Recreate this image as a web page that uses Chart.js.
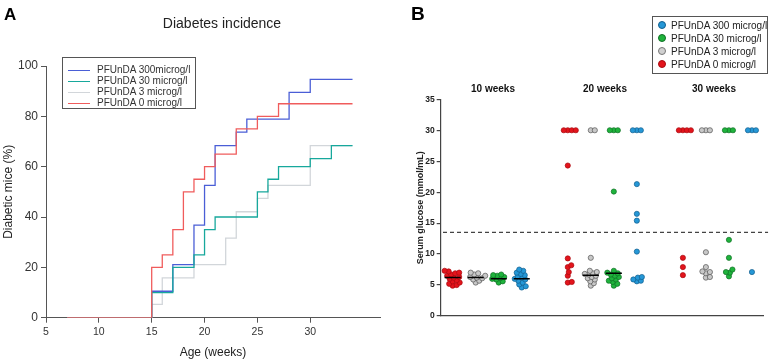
<!DOCTYPE html>
<html lang="en">
<head>
  <meta charset="UTF-8">
  <title>PFUnDA diabetes incidence and glucose</title>
  <script src="https://cdn.jsdelivr.net/npm/chart.js"></script>
  <style>
    body {
      margin: 0;
      background: #fff;
      font-family: 'Liberation Sans', Arial, sans-serif;
    }
    .wrap { position: relative; width: 770px; height: 362px; overflow: hidden; }
    #chartA { position: absolute; left: 0; top: 0; }
    #chartB { position: absolute; left: 395px; top: 0; }
    .tag { position: absolute; font-weight: bold; line-height: 1; color: #000; }
    .title { position: absolute; font-size: 14px; line-height: 1; color: #222; width: 200px; text-align: center; }
    /* legend boxes */
    .legA { position: absolute; left: 62px; top: 57px; width: 134px; height: 52px; border: 1px solid #555; box-sizing: border-box; }
    .legA .row { position: absolute; left: 5px; height: 11px; font-size: 10px; line-height: 11px; color: #333; white-space: nowrap; }
    .legA .swatch { display: inline-block; width: 22px; height: 0; border-top: 1.3px solid; vertical-align: middle; margin-right: 7px; }
    .legB { position: absolute; left: 652px; top: 16px; width: 116px; height: 58px; border: 1px solid #555; box-sizing: border-box; }
    .legB .row { position: absolute; left: 5px; height: 13px; font-size: 10px; line-height: 13px; color: #222; white-space: nowrap; }
    .legB .dot { display: inline-block; width: 6px; height: 6px; border-radius: 50%; border: 0.8px solid; vertical-align: middle; margin-right: 5px; margin-top: -2px; }
    .head { position: absolute; top: 84px; font-size: 10px; font-weight: bold; line-height: 1; color: #111; width: 80px; text-align: center; }
  </style>
</head>
<body>
<div class="wrap">
  <canvas id="chartA" width="390" height="362"></canvas>
  <canvas id="chartB" width="375" height="362"></canvas>

  <div class="tag" style="left:4px; top:6px; font-size:17px;">A</div>
  <div class="tag" style="left:411px; top:4px; font-size:19px;">B</div>
  <div class="title" style="left:122px; top:16px;">Diabetes incidence</div>

  <!-- panel A legend -->
  <div class="legA">
    <div class="row" style="top:6px;"><span class="swatch" style="border-color:#4a5ed6"></span>PFUnDA 300microg/l</div>
    <div class="row" style="top:17px;"><span class="swatch" style="border-color:#17a89c"></span>PFUnDA 30 microg/l</div>
    <div class="row" style="top:28px;"><span class="swatch" style="border-color:#d2d6da"></span>PFUnDA 3 microg/l</div>
    <div class="row" style="top:39px;"><span class="swatch" style="border-color:#f05c5c"></span>PFUnDA 0 microg/l</div>
  </div>

  <!-- panel B legend -->
  <div class="legB">
    <div class="row" style="top:2px;"><span class="dot" style="background:#2597d6;border-color:#125f8e"></span>PFUnDA 300 microg/l</div>
    <div class="row" style="top:15px;"><span class="dot" style="background:#1fb33c;border-color:#0f6e24"></span>PFUnDA 30 microg/l</div>
    <div class="row" style="top:28px;"><span class="dot" style="background:#d0d0d0;border-color:#777"></span>PFUnDA 3 microg/l</div>
    <div class="row" style="top:41px;"><span class="dot" style="background:#e3141c;border-color:#a80a10"></span>PFUnDA 0 microg/l</div>
  </div>

  <div class="head" style="left:453px;">10 weeks</div>
  <div class="head" style="left:565px;">20 weeks</div>
  <div class="head" style="left:674px;">30 weeks</div>
</div>

<script>
  // ---- Panel A: cumulative diabetes incidence (step curves) ----
  const weeks300 = [7, 15, 17, 19, 20, 21, 23, 24, 28, 30, 34];
  const pct300   = [0, 10.5, 21.1, 36.8, 52.6, 68.4, 73.7, 78.9, 89.5, 94.7, 94.7];
  const weeks30  = [7, 15, 17, 19, 20, 21, 25, 26, 27, 30, 32, 34];
  const pct30    = [0, 10, 20, 25, 35, 40, 50, 55, 60, 63.2, 68.4, 68.4];
  const weeks3   = [7, 15, 16, 19, 22, 23, 25, 26, 30, 34];
  const pct3     = [0, 5.3, 15.8, 21.1, 31.6, 42.1, 47.4, 52.6, 68.4, 68.4];
  const weeks0   = [7, 15, 16, 17, 18, 19, 20, 21, 23, 25, 27, 34];
  const pct0     = [0, 20, 25, 35, 50, 55, 60, 65, 75, 80, 85, 85];

  // ---- Panel B: serum glucose per mouse ----
  const red10   = [7.3, 7.2, 7.0, 6.9, 6.7, 6.5, 6.3, 6.2, 6.0, 5.8, 5.6, 5.4, 5.2, 5.0, 4.9];
  const gray10  = [7.0, 6.9, 6.7, 6.5, 6.3, 6.2, 6.1, 5.9, 5.7, 5.4];
  const green10 = [6.7, 6.6, 6.5, 6.3, 6.1, 6.0, 5.9, 5.6, 5.4];
  const blue10  = [7.5, 7.3, 7.0, 6.8, 6.6, 6.4, 6.2, 6.0, 5.9, 5.7, 5.4, 5.1, 4.8, 4.6];
  const red20   = [30, 30, 30, 30, 24.3, 9.3, 8.2, 7.9, 7.1, 6.5, 5.5, 5.4];
  const gray20  = [30, 30, 9.4, 7.3, 7.1, 6.9, 6.8, 6.7, 6.5, 6.3, 6.1, 5.9, 5.6, 5.3, 4.9];
  const green20 = [30, 30, 30, 20.1, 7.3, 7.0, 6.9, 6.7, 6.5, 6.3, 6.1, 5.9, 5.7, 5.5, 5.2, 4.9];
  const blue20  = [30, 30, 30, 21.3, 16.5, 15.4, 10.4, 6.3, 6.2, 5.9, 5.7, 5.6];
  const red30   = [30, 30, 30, 30, 9.4, 7.9, 6.6];
  const gray30  = [30, 30, 30, 10.3, 7.9, 7.2, 7.1, 6.9, 6.3, 6.2];
  const green30 = [30, 30, 30, 12.3, 9.4, 7.5, 7.1, 7.0, 6.4];
  const blue30  = [30, 30, 30, 7.1];
  // median bars that are visible in the figure (null = none drawn)
  const medianBars = [6.2, 6.2, 6.0, 6.0, null, 6.6, 6.9, null, null, null, null, null];
  const threshold = 13.5;
  const yTicksB = [0, 5, 10, 15, 20, 25, 30, 35];

  // group slots on the x axis: 4 doses per time point, one empty slot between time points
  const slots = [0, 1, 2, 3, 5, 6, 7, 8, 10, 11, 12, 13];
  const groups = [red10, gray10, green10, blue10, red20, gray20, green20, blue20, red30, gray30, green30, blue30];

  const dotFill = ['#e3141c', '#c8c8c8', '#1fb33c', '#2597d6'];
  const dotEdge = ['#a80a10', '#555555', '#0f6e24', '#125f8e'];
  const doseNames = ['PFUnDA 0 microg/l', 'PFUnDA 3 microg/l', 'PFUnDA 30 microg/l', 'PFUnDA 300 microg/l'];

  function steps(weeks, pct) {
    return weeks.map((w, i) => ({ x: w, y: pct[i] }));
  }

  function stepSet(label, weeks, pct, color) {
    return { label: label, data: steps(weeks, pct), borderColor: color, borderWidth: 1.3,
             stepped: true, pointRadius: 0, fill: false };
  }

  new Chart(document.getElementById('chartA'), {
    type: 'line',
    data: {
      datasets: [
        stepSet('PFUnDA 0 microg/l', weeks0, pct0, '#f05c5c'),
        stepSet('PFUnDA 30 microg/l', weeks30, pct30, '#17a89c'),
        stepSet('PFUnDA 300microg/l', weeks300, pct300, '#4a5ed6'),
        stepSet('PFUnDA 3 microg/l', weeks3, pct3, '#d2d6da')
      ]
    },
    options: {
      responsive: false,
      animation: false,
      layout: { padding: { left: 1, top: 66, right: 10, bottom: 0 } },
      plugins: { legend: { display: false }, tooltip: { enabled: false } },
      scales: {
        x: {
          type: 'linear', min: 5, max: 36.6,
          afterBuildTicks: s => { s.ticks = s.ticks.filter(t => t.value % 5 === 0); },
          afterFit: s => { s.height = 44.3; },
          ticks: { stepSize: 5, color: '#333', padding: 3, maxRotation: 0,
                   font: { family: 'Liberation Sans', size: 10.5 } },
          grid: { drawOnChartArea: false, tickLength: 5, color: '#555' },
          border: { color: '#555', width: 1 },
          title: { display: true, text: 'Age (weeks)', color: '#222',
                   font: { family: 'Liberation Sans', size: 12 }, padding: { top: 0, bottom: 2 } }
        },
        y: {
          min: 0, max: 100,
          afterFit: s => { s.width = 45; },
          ticks: { stepSize: 20, color: '#333', padding: 3,
                   font: { family: 'Liberation Sans', size: 12 } },
          grid: { drawOnChartArea: false, tickLength: 5, color: '#555' },
          border: { color: '#555', width: 1 },
          title: { display: true, text: 'Diabetic mice (%)', color: '#222',
                   font: { family: 'Liberation Sans', size: 12 }, padding: { top: 0, bottom: 0 } }
        }
      }
    }
  });

  // simple deterministic beeswarm: dots of equal value sit side by side
  const PX_X = 23.0, PX_Y = 6.19, GAP = 3.8;
  function swarm(values, slot) {
    const placed = [];
    values.slice().sort((a, b) => a - b).forEach(v => {
      const py = v * PX_Y;
      for (let k = 0; k < 200; k++) {
        const dx = (k % 2 ? 1 : -1) * Math.ceil(k / 2) * 0.5;
        if (placed.every(p => Math.hypot(p.dx - dx, p.py - py) >= GAP)) {
          placed.push({ dx: dx, py: py, v: v });
          break;
        }
      }
    });
    return placed.map(p => ({ x: slot + p.dx / PX_X, y: p.v }));
  }

  const xMinB = -0.52, xMaxB = 13.48;
  const datasetsB = [];

  // median bars first so they are drawn on top
  medianBars.forEach((m, i) => {
    if (m === null) return;
    datasetsB.push({ type: 'line', data: [{ x: slots[i] - 0.35, y: m }, { x: slots[i] + 0.35, y: m }],
      borderColor: '#000', borderWidth: 1.5, pointRadius: 0 });
  });

  [0, 1, 2, 3].forEach(c => {
    let pts = [];
    groups.forEach((g, i) => { if (i % 4 === c) pts = pts.concat(swarm(g, slots[i])); });
    datasetsB.push({ type: 'scatter', label: doseNames[c], data: pts,
      backgroundColor: dotFill[c], borderColor: dotEdge[c], borderWidth: 0.7, pointRadius: 2.6 });
  });

  datasetsB.push({ type: 'line', data: [{ x: xMinB + 0.1, y: threshold }, { x: xMaxB + 0.22, y: threshold }],
    borderColor: '#444', borderWidth: 1.2, borderDash: [4, 3], pointRadius: 0, clip: false });

  new Chart(document.getElementById('chartB'), {
    type: 'scatter',
    data: { datasets: datasetsB },
    options: {
      responsive: false,
      animation: false,
      layout: { padding: { left: 15, top: 99.3, right: 7, bottom: 46 } },
      plugins: { legend: { display: false }, tooltip: { enabled: false } },
      scales: {
        x: {
          type: 'linear', min: xMinB, max: xMaxB,
          afterFit: s => { s.height = 0; },
          ticks: { display: false },
          grid: { display: false },
          border: { color: '#444', width: 1.2 }
        },
        y: {
          min: 0, max: 35,
          afterBuildTicks: s => { s.ticks = yTicksB.map(v => ({ value: v })); },
          afterFit: s => { s.width = 30.7; },
          ticks: { color: '#222', padding: 2,
                   font: { family: 'Liberation Sans', size: 8.5, weight: 'bold' } },
          grid: { drawOnChartArea: false, tickLength: 4, color: '#444', lineWidth: 1.2 },
          border: { color: '#444', width: 1.2 },
          title: { display: true, text: 'Serum glucose (mmol/mL)', color: '#222',
                   font: { family: 'Liberation Sans', size: 9, weight: 'bold' }, padding: { top: 5.6, bottom: 0 } }
        }
      }
    }
  });
</script>
</body>
</html>
